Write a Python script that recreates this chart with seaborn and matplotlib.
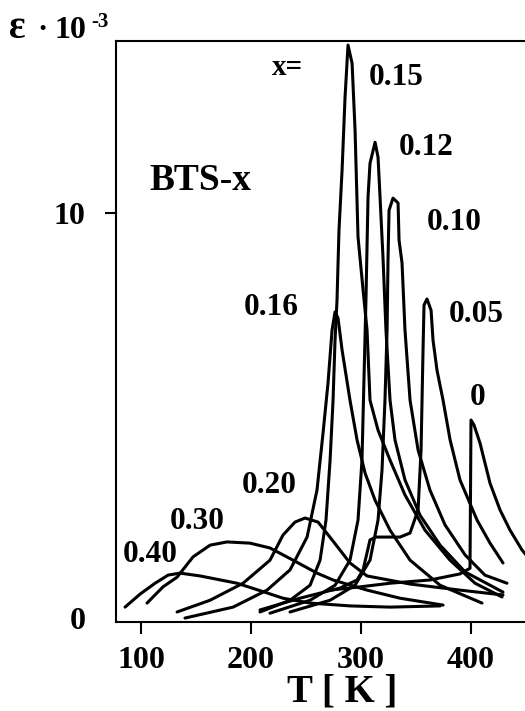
import matplotlib
matplotlib.use("Agg")
import matplotlib.pyplot as plt
import pandas as pd
import seaborn as sns

# Dielectric permittivity curves eps(T) of BTS-x ceramics, eps in units of 10^3
curve_labels = ["0.40", "0.30", "0.20", "0.16", "0.15", "0.12", "0.10", "0.05", "0"]

T_040 = [85.5, 99.1, 112.8, 124.6, 135.5, 153.7, 187.3, 214.6, 229.1, 253.7, 290.0, 326.4, 371.9]
E_040 = [0.27, 0.59, 0.86, 1.06, 1.11, 1.04, 0.86, 0.62, 0.49, 0.37, 0.30, 0.27, 0.30]

T_030 = [105.5, 120.0, 132.8, 147.3, 162.8, 178.2, 199.1, 217.3, 238.2, 260.0, 274.6, 305.5, 335.5, 374.6]
E_030 = [0.37, 0.77, 1.01, 1.51, 1.80, 1.88, 1.85, 1.73, 1.43, 1.11, 0.94, 0.69, 0.49, 0.32]

T_020 = [132.8, 162.8, 192.8, 217.3, 229.1, 240.0, 249.1, 261.0, 274.6, 290.0, 305.5, 344.6, 390.0, 429.1]
E_020 = [0.15, 0.44, 0.86, 1.43, 2.05, 2.37, 2.47, 2.37, 1.90, 1.36, 1.04, 0.84, 0.69, 0.57]

T_016 = [140.0, 183.7, 214.6, 235.5, 251.0, 260.0, 265.5, 270.0, 273.7, 276.4, 279.1, 282.8,
         290.0, 296.4, 303.7, 312.8, 326.4, 344.6, 371.9, 410.0]
E_016 = [0.0, 0.27, 0.69, 1.19, 2.00, 3.16, 4.57, 5.80, 7.11, 7.56, 7.41, 6.62,
         5.38, 4.40, 3.58, 2.91, 2.17, 1.43, 0.81, 0.37]

T_015 = [208.2, 235.5, 253.7, 262.8, 268.2, 271.9, 274.6, 276.4, 278.2, 280.0, 282.8, 285.5, 288.2,
         291.9, 294.6, 297.3, 301.9, 305.5, 308.2, 315.5, 326.4, 340.0, 358.2, 380.9, 403.7, 428.2]
E_015 = [0.15, 0.44, 0.81, 1.43, 2.42, 3.90, 5.38, 6.86, 7.85, 9.58, 11.06, 12.86, 14.15,
         13.70, 12.05, 9.41, 8.10, 7.11, 5.38, 4.64, 3.90, 3.04, 2.17, 1.43, 0.86, 0.52]

T_012 = [217.3, 253.7, 276.4, 290.0, 297.3, 300.9, 302.7, 304.5, 306.4, 308.2, 312.8,
         315.5, 317.3, 320.0, 322.7, 326.4, 330.9, 340.0, 353.7, 371.9, 394.6, 429.1]
E_012 = [0.12, 0.44, 0.81, 1.43, 2.42, 3.90, 5.88, 7.85, 10.40, 11.23, 11.75,
         11.38, 10.40, 8.91, 7.11, 5.38, 4.40, 3.41, 2.54, 1.80, 1.14, 0.64]

T_010 = [235.5, 271.9, 294.6, 308.2, 315.5, 319.1, 321.8, 323.7, 324.6, 325.5, 329.1,
         333.7, 334.6, 337.3, 340.0, 344.6, 351.9, 362.7, 376.4, 394.6, 412.7, 432.7]
E_010 = [0.15, 0.44, 0.81, 1.43, 2.42, 3.65, 5.38, 7.11, 8.91, 10.07, 10.37,
         10.25, 9.33, 8.77, 7.11, 5.38, 4.15, 3.16, 2.30, 1.56, 1.06, 0.86]

T_005 = [208.2, 244.5, 280.9, 296.4, 301.9, 308.2, 313.7, 335.5, 344.6, 351.9, 354.6, 356.4,
         357.3, 360.0, 363.7, 365.5, 369.1, 374.6, 381.0, 390.0, 405.5, 417.3, 429.1]
E_005 = [0.20, 0.49, 0.74, 0.94, 1.19, 1.93, 2.00, 2.00, 2.10, 2.67, 4.15, 6.62,
         7.73, 7.88, 7.60, 6.86, 6.12, 5.38, 4.40, 3.41, 2.42, 1.85, 1.36]

T_000 = [271.9, 299.1, 326.4, 362.7, 390.0, 399.1, 400.0, 402.7, 408.2, 417.3, 426.4, 435.5, 446.4, 455.0]
E_000 = [0.69, 0.77, 0.86, 0.94, 1.09, 1.23, 4.89, 4.77, 4.32, 3.33, 2.67, 2.17, 1.68, 1.40]

x_ticks = [100, 200, 300, 400]
y_ticks = [0, 10]

series = {
    "0.40": (T_040, E_040), "0.30": (T_030, E_030), "0.20": (T_020, E_020),
    "0.16": (T_016, E_016), "0.15": (T_015, E_015), "0.12": (T_012, E_012),
    "0.10": (T_010, E_010), "0.05": (T_005, E_005), "0": (T_000, E_000),
}
frames = [pd.DataFrame({"T": t, "eps": e, "x": lab}) for lab, (t, e) in series.items()]
df = pd.concat(frames, ignore_index=True)

sns.set_theme(style="ticks", rc={
    "axes.edgecolor": "black", "text.color": "black", "xtick.color": "black",
    "ytick.color": "black", "axes.labelcolor": "black",
})
plt.rcParams["font.family"] = ["Liberation Serif", "DejaVu Serif"]
plt.rcParams["font.weight"] = "bold"

fig = plt.figure(figsize=(5.25, 7.11), dpi=100)
ax = fig.add_axes([0.2210, 0.1256, 0.7790, 0.8167])

sns.lineplot(data=df, x="T", y="eps", hue="x", hue_order=curve_labels,
             palette={k: "black" for k in curve_labels}, estimator=None, sort=False,
             legend=False, linewidth=2.2, ax=ax)

ax.set_xlim(77.3, 449.1)
ax.set_ylim(-0.09, 14.25)
ax.set_xticks(x_ticks)
ax.set_yticks(y_ticks)
ax.set_xticklabels([str(v) for v in x_ticks], fontsize=23, fontweight="bold")
ax.set_yticklabels([str(v) for v in y_ticks], fontsize=23, fontweight="bold")
ax.tick_params(axis="x", direction="out", length=8.5, width=1.5, pad=9)
ax.tick_params(axis="y", direction="out", length=8, width=1.5, pad=14)
ax.yaxis.get_major_ticks()[0].tick1line.set_visible(False)
ax.spines["right"].set_visible(False)
for side in ["left", "bottom", "top"]:
    ax.spines[side].set_linewidth(1.5)
ax.set_xlabel("")
ax.set_ylabel("")

# composition labels next to each curve
label_pos = {
    "0.15": (331.9, 13.16), "0.12": (359.1, 11.43), "0.10": (384.6, 9.58),
    "0.16": (218.8, 7.48), "0.05": (404.6, 7.32), "0": (406.4, 5.26),
    "0.20": (216.4, 3.08), "0.30": (150.7, 2.21), "0.40": (108.2, 1.39),
}
for lab, (tx, ty) in label_pos.items():
    ax.text(tx, ty, lab, ha="center", va="baseline", fontsize=22.5, fontweight="bold")
ax.text(232.8, 13.41, "x=", ha="center", va="baseline", fontsize=21, fontweight="bold")
ax.text(154.4, 10.57, "BTS-x", ha="center", va="baseline", fontsize=27, fontweight="bold")

# axis titles
fig.text(0.017, 0.9466, "\u03b5", ha="left", va="baseline", fontsize=28, fontweight="bold")
fig.text(0.081, 0.9466, "\u00b7", ha="center", va="baseline", fontsize=22, fontweight="bold")
fig.text(0.103, 0.9466, "10", ha="left", va="baseline", fontsize=23, fontweight="bold")
fig.text(0.174, 0.9626, "-3", ha="left", va="baseline", fontsize=15, fontweight="bold")
fig.text(0.651, 0.013, "T [ K ]", ha="center", va="baseline", fontsize=28, fontweight="bold")

fig.savefig("out.png", dpi=100)
